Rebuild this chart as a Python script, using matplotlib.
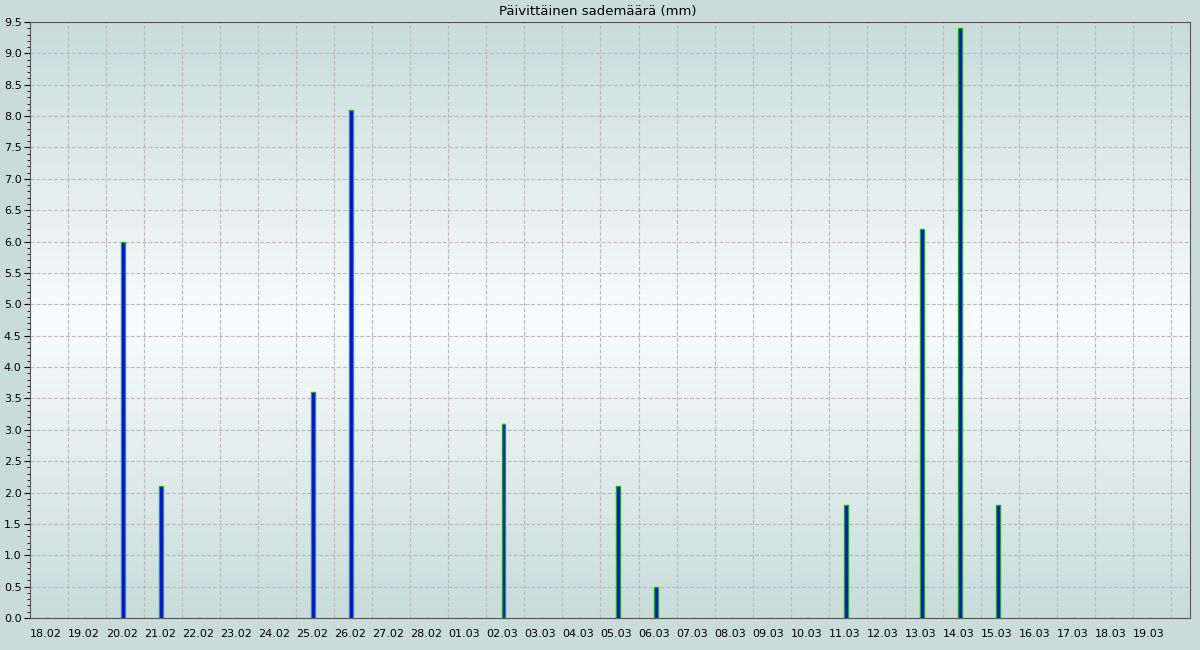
import numpy as np
import matplotlib
matplotlib.use('Agg')
import matplotlib.pyplot as plt
from matplotlib.colors import LinearSegmentedColormap

# days shown
days = ['18.02', '19.02', '20.02', '21.02', '22.02', '23.02', '24.02', '25.02', '26.02', '27.02',
        '28.02', '01.03', '02.03', '03.03', '04.03', '05.03', '06.03', '07.03', '08.03', '09.03',
        '10.03', '11.03', '12.03', '13.03', '14.03', '15.03', '16.03', '17.03', '18.03', '19.03']
rain = [0, 0, 6.0, 2.1, 0, 0, 0, 3.6, 8.1, 0,
        0, 0, 3.1, 0, 0, 2.1, 0.5, 0, 0, 0,
        0, 1.8, 0, 6.2, 9.4, 1.8, 0, 0, 0, 0]

fig = plt.figure(figsize=(12, 6.5), dpi=100, facecolor='#c9dcda')
ax = fig.add_axes([30/1200, 32/650, 1160/1200, 596/650])

# background gradient
cm = LinearSegmentedColormap.from_list('bg', ['#c8dcda', '#f8fcfc', '#c8dcda'])
grad = np.linspace(0, 1, 256).reshape(-1, 1)
ax.imshow(grad, aspect='auto', cmap=cm, extent=[0, 30.5, 0, 9.5], zorder=0, interpolation='bicubic')

x = np.arange(len(days))
ax.bar(x + 0.45, rain, width=0.1, color='#0000ff', edgecolor='#22aa22', linewidth=1.0, zorder=3)

ax.set_xlim(0, 30.5)
ax.set_ylim(0, 9.5)
ax.set_xticks(x + 0.42)
ax.set_xticklabels(days, fontsize=8)
ax.set_xticks(np.arange(1, 31), minor=True)
ax.tick_params(axis='x', which='both', length=0, pad=8)
ax.set_yticks(np.arange(0, 9.51, 0.5))
ax.set_yticklabels(['%.1f' % v for v in np.arange(0, 9.51, 0.5)], fontsize=8)
ax.set_yticks(np.arange(0, 9.51, 0.1), minor=True)
ax.tick_params(axis='y', which='major', length=4, pad=2)
ax.tick_params(axis='y', which='minor', length=2)
ax.grid(True, axis='x', which='minor', linestyle='--', color='#bbbbbb', linewidth=0.8, zorder=1)
ax.grid(True, axis='y', which='major', linestyle='--', color='#bbbbbb', linewidth=0.8, zorder=1)
ax.set_axisbelow(True)
for s in ax.spines.values():
    s.set_color('#555555')

fig.text(0.4983, 1 - 11/650, 'Päivittäinen sademäärä (mm)', fontsize=9.5, ha='center', va='center')

fig.savefig('out.png', dpi=100, facecolor=fig.get_facecolor())
